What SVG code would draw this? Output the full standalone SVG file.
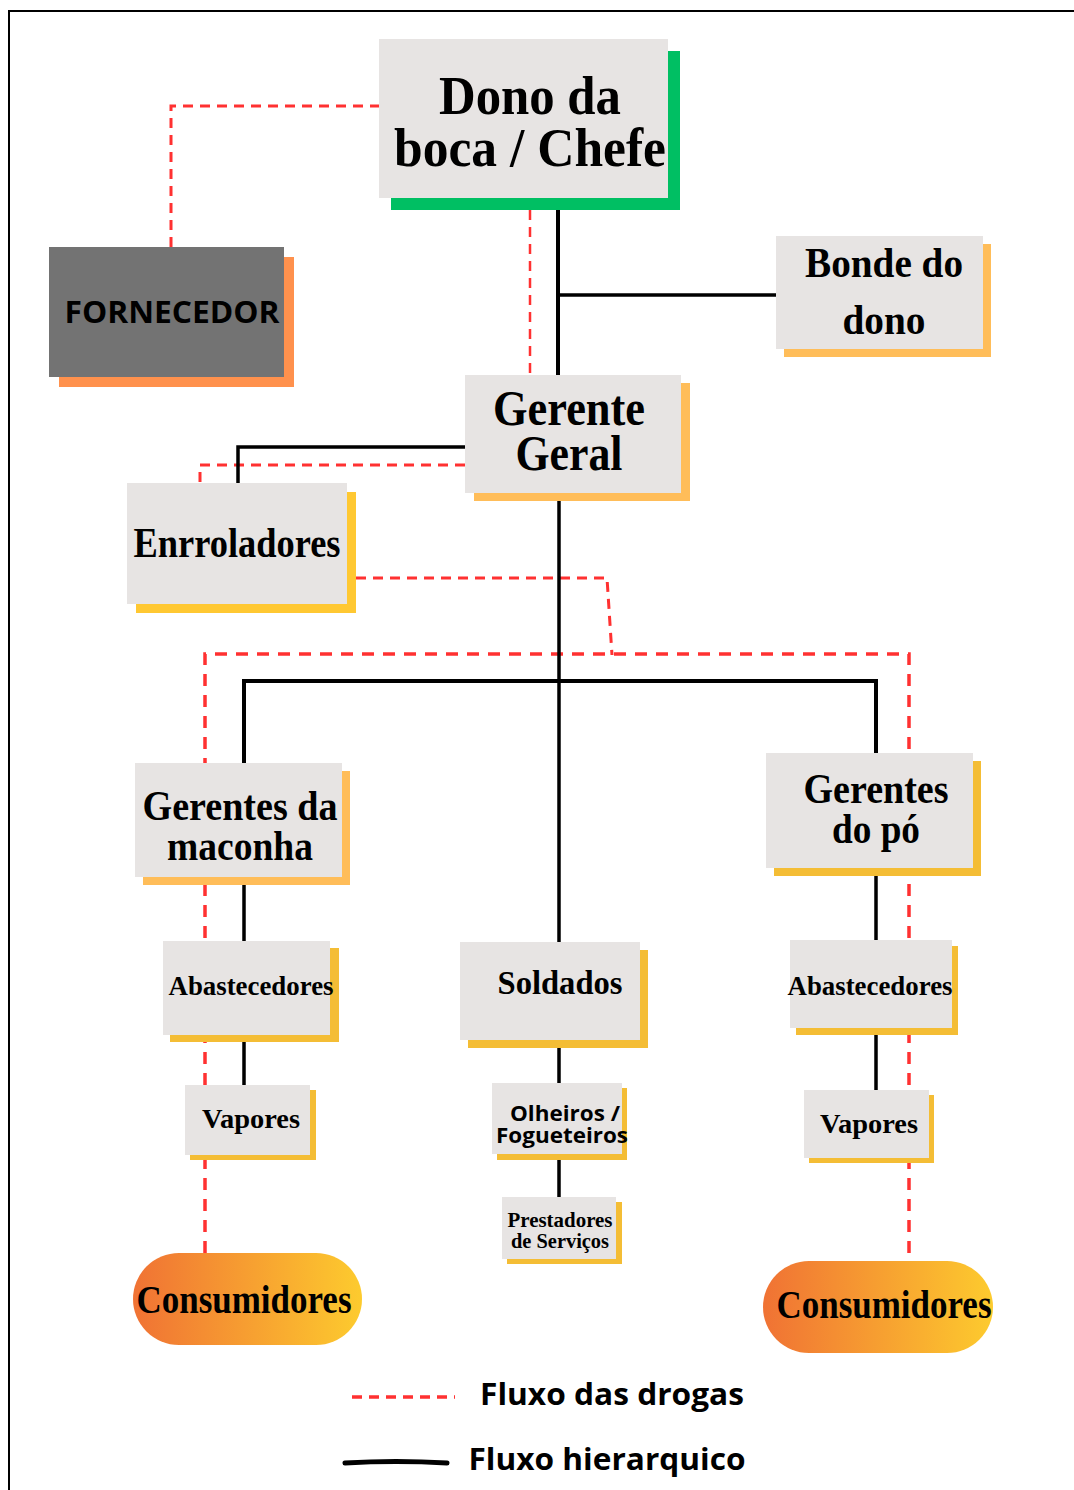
<svg xmlns="http://www.w3.org/2000/svg" width="1074" height="1490" viewBox="0 0 1074 1490">
<style>
.box{fill:#E7E4E3}
.sh-o{fill:#FFBD59}
.sh-y{fill:#F4BD35}
.sh-g{fill:#00BF63}
.t{font-family:"Liberation Serif","Times New Roman",serif;font-weight:bold;fill:#000;text-anchor:middle}
.s{font-family:"Open Sans","Liberation Sans",sans-serif;font-weight:bold;fill:#000;text-anchor:middle}
.blk{fill:none;stroke:#000;stroke-width:3.5}
.red{fill:none;stroke:#FF3131;stroke-width:3;stroke-dasharray:10 7}
</style>
<defs>
<linearGradient id="cons" x1="0" y1="0" x2="1" y2="0">
<stop offset="0" stop-color="#F07234"/>
<stop offset="1" stop-color="#FDCB2E"/>
</linearGradient>
</defs>
<rect width="1074" height="1490" fill="#fff"/>
<path d="M9,1490 V11 H1074" fill="none" stroke="#000" stroke-width="2"/>

<g id="connectors">
<path class="red" d="M171,247 V106 H379"/>
<path class="red" style="stroke-width:2.5" d="M530,210 V375"/>
<path class="red" d="M465,465 H200 V483"/>
<path class="red" d="M356,578 H607 L612,655"/>
<path class="red" style="stroke-width:3.5;stroke-dasharray:12 9" d="M205,1253 V654 H909 V1260"/>
<path class="blk" style="stroke-width:4" d="M558,203 V375"/>
<path class="blk" d="M558,295 H776"/>
<path class="blk" d="M465,447 H238 V483"/>
<path class="blk" d="M559,501 V942"/>
<path class="blk" style="stroke-width:4" d="M244,763 V681 H876 V753"/>
<path class="blk" d="M244,885 V941 M244,1042 V1085"/>
<path class="blk" d="M876,876 V940 M876,1035 V1090"/>
<path class="blk" d="M559,1048 V1083 M559,1160 V1197"/>
</g>

<g id="dono">
<rect class="sh-g" x="391" y="51" width="289" height="159"/>
<rect class="box" x="379" y="39" width="289" height="159"/>
<text class="t" x="530" y="114" font-size="54" textLength="182" lengthAdjust="spacingAndGlyphs">Dono da</text>
<text class="t" x="530" y="166" font-size="54" textLength="272" lengthAdjust="spacingAndGlyphs">boca / Chefe</text>
</g>

<g id="fornecedor">
<rect fill="#FF914D" x="59" y="257" width="235" height="130"/>
<rect fill="#737373" x="49" y="247" width="235" height="130"/>
<text class="s" x="172" y="323" font-size="30" fill="#111" textLength="215" lengthAdjust="spacingAndGlyphs">FORNECEDOR</text>
</g>

<g id="bonde">
<rect class="sh-o" x="784" y="244" width="207" height="113"/>
<rect class="box" x="776" y="236" width="207" height="113"/>
<text class="t" x="884" y="277" font-size="42" textLength="158" lengthAdjust="spacingAndGlyphs">Bonde do</text>
<text class="t" x="884" y="334" font-size="42" textLength="83" lengthAdjust="spacingAndGlyphs">dono</text>
</g>

<g id="gerente-geral">
<rect class="sh-o" x="474" y="383" width="216" height="118"/>
<rect class="box" x="465" y="375" width="216" height="118"/>
<text class="t" x="569" y="425" font-size="50" textLength="152" lengthAdjust="spacingAndGlyphs">Gerente</text>
<text class="t" x="569" y="470" font-size="50" textLength="107" lengthAdjust="spacingAndGlyphs">Geral</text>
</g>

<g id="enrroladores">
<rect fill="#FFC832" x="136" y="492" width="220" height="121"/>
<rect class="box" x="127" y="483" width="220" height="121"/>
<text class="t" x="237" y="557" font-size="42" textLength="207" lengthAdjust="spacingAndGlyphs">Enrroladores</text>
</g>

<g id="gerentes-maconha">
<rect class="sh-o" x="143" y="771" width="207" height="114"/>
<rect class="box" x="135" y="763" width="207" height="114"/>
<text class="t" x="240" y="820" font-size="42" textLength="195" lengthAdjust="spacingAndGlyphs">Gerentes da</text>
<text class="t" x="240" y="860" font-size="42" textLength="146" lengthAdjust="spacingAndGlyphs">maconha</text>
</g>

<g id="gerentes-po">
<rect class="sh-y" x="774" y="761" width="207" height="115"/>
<rect class="box" x="766" y="753" width="207" height="115"/>
<text class="t" x="876" y="803" font-size="42" textLength="145" lengthAdjust="spacingAndGlyphs">Gerentes</text>
<text class="t" x="876" y="843" font-size="42" textLength="88" lengthAdjust="spacingAndGlyphs">do pó</text>
</g>

<g id="abastecedores-1">
<rect class="sh-y" x="170" y="948" width="169" height="94"/>
<rect class="box" x="163" y="941" width="167" height="94"/>
<text class="t" x="251" y="995" font-size="28" textLength="165" lengthAdjust="spacingAndGlyphs">Abastecedores</text>
</g>

<g id="vapores-1">
<rect class="sh-y" x="190" y="1090" width="126" height="70"/>
<rect class="box" x="185" y="1085" width="125" height="70"/>
<text class="t" x="251" y="1128" font-size="28" textLength="98" lengthAdjust="spacingAndGlyphs">Vapores</text>
</g>

<g id="soldados">
<rect class="sh-y" x="468" y="950" width="180" height="98"/>
<rect class="box" x="460" y="942" width="180" height="98"/>
<text class="t" x="560" y="994" font-size="34" textLength="125" lengthAdjust="spacingAndGlyphs">Soldados</text>
</g>

<g id="olheiros">
<rect class="sh-y" x="497" y="1088" width="130" height="72"/>
<rect class="box" x="492" y="1083" width="130" height="71"/>
<text class="s" x="565" y="1121" font-size="21" textLength="110" lengthAdjust="spacingAndGlyphs">Olheiros /</text>
<text class="s" x="562" y="1143" font-size="21" textLength="132" lengthAdjust="spacingAndGlyphs">Fogueteiros</text>
</g>

<g id="prestadores">
<rect class="sh-y" x="507" y="1202" width="115" height="62"/>
<rect class="box" x="502" y="1197" width="114" height="62"/>
<text class="t" x="560" y="1227" font-size="21" textLength="105" lengthAdjust="spacingAndGlyphs">Prestadores</text>
<text class="t" x="560" y="1248" font-size="21" textLength="98" lengthAdjust="spacingAndGlyphs">de Serviços</text>
</g>

<g id="abastecedores-2">
<rect class="sh-y" x="796" y="946" width="162" height="89"/>
<rect class="box" x="790" y="940" width="162" height="88"/>
<text class="t" x="870" y="995" font-size="28" textLength="165" lengthAdjust="spacingAndGlyphs">Abastecedores</text>
</g>

<g id="vapores-2">
<rect class="sh-y" x="809" y="1095" width="125" height="68"/>
<rect class="box" x="804" y="1090" width="125" height="68"/>
<text class="t" x="869" y="1133" font-size="28" textLength="98" lengthAdjust="spacingAndGlyphs">Vapores</text>
</g>

<g id="consumidores-1">
<rect fill="url(#cons)" x="133" y="1253" width="229" height="92" rx="46"/>
<text class="t" x="244" y="1313" font-size="40" textLength="215" lengthAdjust="spacingAndGlyphs">Consumidores</text>
</g>

<g id="consumidores-2">
<rect fill="url(#cons)" x="763" y="1261" width="230" height="92" rx="46"/>
<text class="t" x="884" y="1318" font-size="40" textLength="215" lengthAdjust="spacingAndGlyphs">Consumidores</text>
</g>

<g id="legend">
<path d="M352,1397 H455" fill="none" stroke="#FF3131" stroke-width="3.5" stroke-dasharray="10 7"/>
<text class="s" x="612" y="1405" font-size="31" textLength="264" lengthAdjust="spacingAndGlyphs">Fluxo das drogas</text>
<path d="M345,1463 Q396,1460 447,1463" fill="none" stroke="#000" stroke-width="5" stroke-linecap="round"/>
<text class="s" x="607" y="1470" font-size="31" textLength="277" lengthAdjust="spacingAndGlyphs">Fluxo hierarquico</text>
</g>
</svg>
